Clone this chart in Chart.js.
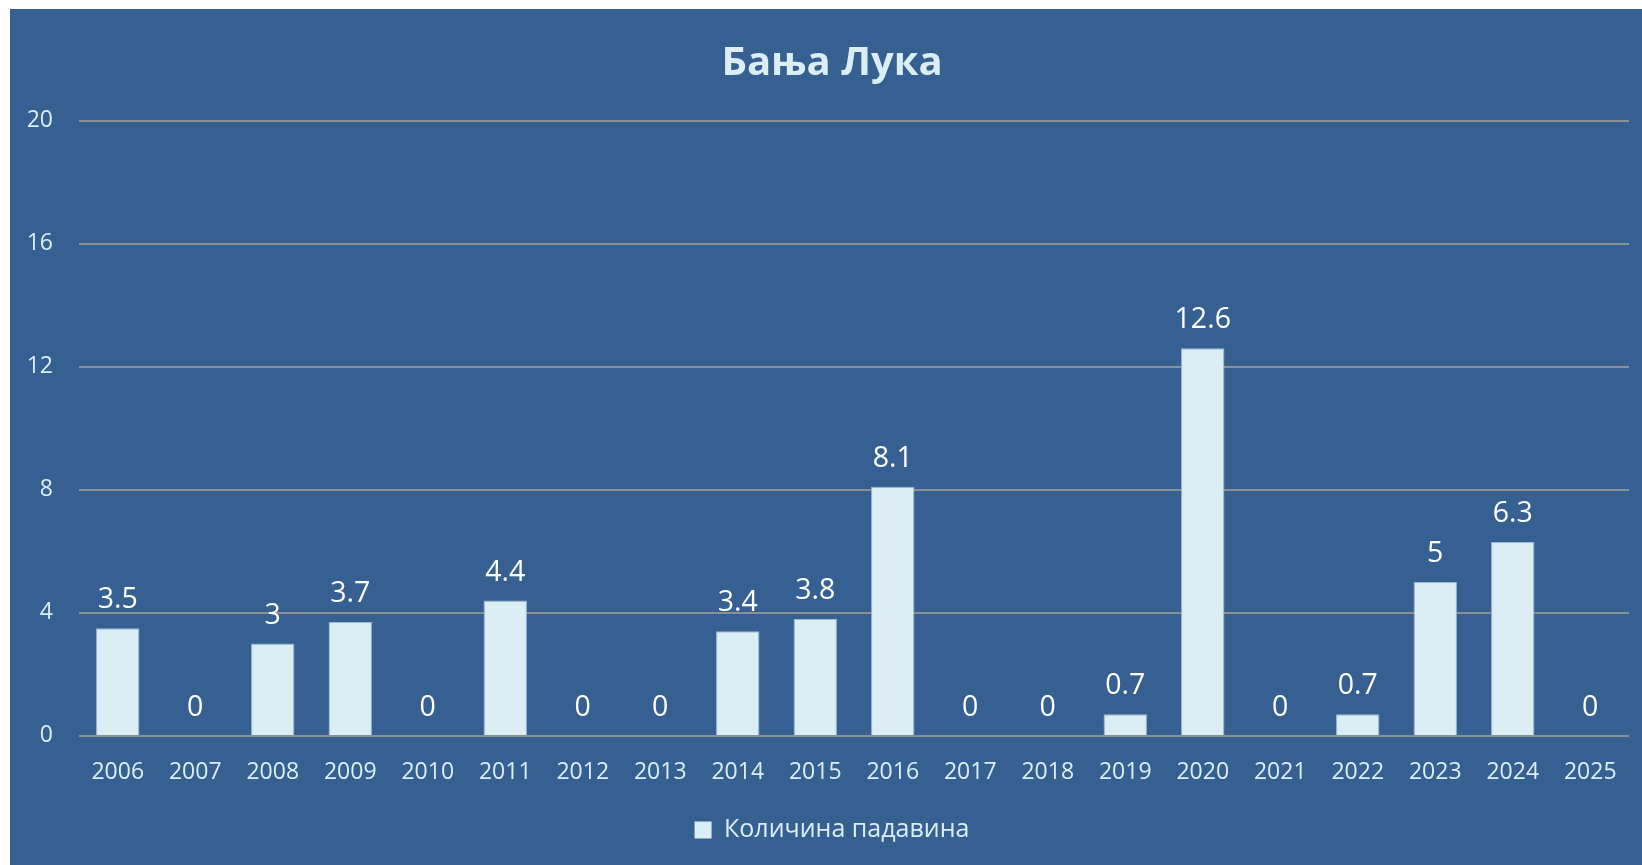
<!DOCTYPE html>
<html>
<head>
<meta charset="utf-8">
<script src="https://cdn.jsdelivr.net/npm/chart.js@4/dist/chart.umd.min.js"></script>
<style>
  html, body { margin: 0; padding: 0; background: #ffffff; width: 1642px; height: 865px; overflow: hidden; }
  #wrap { position: absolute; left: 10px; top: 9px; width: 1632px; height: 856px; background: #366092; }
  canvas { display: block; }
</style>
</head>
<body>
<div id="wrap"><canvas id="c" width="1632" height="856"></canvas></div>
<script>
const titleText = 'Бања Лука';
const seriesName = 'Количина падавина';
const years = ['2006','2007','2008','2009','2010','2011','2012','2013','2014','2015','2016','2017','2018','2019','2020','2021','2022','2023','2024','2025'];
const precipitation = [3.5, 0, 3, 3.7, 0, 4.4, 0, 0, 3.4, 3.8, 8.1, 0, 0, 0.7, 12.6, 0, 0.7, 5, 6.3, 0];
const yMin = 0, yMax = 20, yStep = 4;

const FONT = "'Open Sans', 'Noto Sans', sans-serif";
const LIGHT = '#DAEEF3';

const valueLabels = {
  id: 'valueLabels',
  afterDatasetsDraw(chart) {
    const ctx = chart.ctx;
    const meta = chart.getDatasetMeta(0);
    ctx.save();
    ctx.font = '28.5px ' + FONT;
    ctx.fillStyle = '#ffffff';
    ctx.textAlign = 'center';
    ctx.textBaseline = 'alphabetic';
    meta.data.forEach((bar, i) => {
      const v = chart.data.datasets[0].data[i];
      ctx.fillText(String(v), bar.x, bar.y - 20);
    });
    ctx.restore();
  }
};

new Chart(document.getElementById('c'), {
  type: 'bar',
  data: {
    labels: years,
    datasets: [{
      label: seriesName,
      data: precipitation,
      backgroundColor: LIGHT,
      borderColor: '#9FB8D2',
      borderWidth: 1,
      categoryPercentage: 1,
      barPercentage: 0.56
    }]
  },
  options: {
    responsive: false,
    animation: false,
    layout: { padding: { left: 12, right: 0, top: 0, bottom: 12.5 } },
    plugins: {
      title: {
        display: true,
        text: titleText,
        color: LIGHT,
        font: { family: FONT, size: 40, weight: 'bold', lineHeight: 1.2 },
        padding: { top: 31, bottom: 32.6 }
      },
      legend: {
        display: true,
        position: 'bottom',
        labels: {
          color: LIGHT,
          font: { family: FONT, size: 25 },
          boxWidth: 17,
          boxHeight: 17,
          padding: 8,
          generateLabels(chart) {
            return [{ text: seriesName, fillStyle: LIGHT, strokeStyle: LIGHT, lineWidth: 0, fontColor: LIGHT, datasetIndex: 0 }];
          }
        }
      },
      tooltip: { enabled: false }
    },
    scales: {
      x: {
        grid: { display: false, drawTicks: false },
        border: { display: false },
        ticks: { color: LIGHT, font: { family: FONT, size: 23 }, padding: 23, maxRotation: 0, autoSkip: false }
      },
      y: {
        min: yMin, max: yMax,
        afterFit(scale) { scale.width = 57; },
        grid: { color: '#8C8F94', lineWidth: 2, drawTicks: false },
        border: { display: false },
        ticks: { stepSize: yStep, color: LIGHT, font: { family: FONT, size: 23 }, padding: 26 }
      },
      yRight: {
        position: 'right',
        min: yMin, max: yMax,
        display: true,
        afterFit(scale) { scale.width = 13; },
        grid: { display: false, drawTicks: false },
        border: { display: false },
        ticks: { display: false }
      }
    }
  },
  plugins: [valueLabels]
});
</script>
</body>
</html>
